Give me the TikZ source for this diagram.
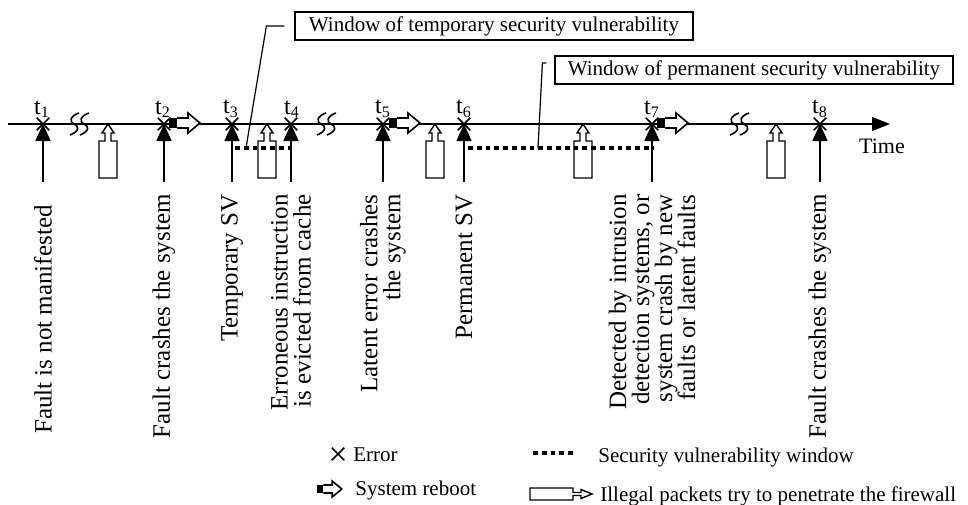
\documentclass[tikz,border=0pt]{standalone}
\usepackage{fontspec}
\setmainfont{Liberation Serif}
\usetikzlibrary{arrows.meta,shapes.misc,calc}
\tikzset{>=latex}
\tikzset{
  axis/.style={line width=0.7pt},
  err/.style={cross out, draw, line width=0.8pt, minimum size=5.5pt, inner sep=0pt},
  hit/.style={-{Triangle[length=8.5pt,width=7.5pt]}, line width=0.7pt},
  svwin/.style={line width=2.2pt, dash pattern=on 2.4pt off 2pt},
  tlabel/.style={anchor=south, inner sep=0pt, font=\fontsize{12}{12}\selectfont},
  cause/.style={rotate=90, anchor=east, align=right, inner sep=1pt,
    font=\fontsize{12.5}{11.5}\selectfont},
  callout/.style={draw, line width=0.6pt, font=\fontsize{10.5}{12}\selectfont,
    minimum width=199pt, minimum height=14pt, inner sep=2pt},
  key/.style={anchor=west, inner sep=0pt, font=\fontsize{10.5}{12}\selectfont},
  % reboot: black tail and hollow arrow
  reboot/.pic={
    \fill (0,-5) rectangle (8,5);
    \draw[fill=white, line width=0.8pt] (8,-5) -- (19,-5) -- (19,-10) -- (31,0)
      -- (19,10) -- (19,5) -- (8,5);
  },
  % packet pushing up against the line
  packet/.pic={
    \draw[line width=0.7pt] (0,0) -- (6,9) -- (3,9) -- (3,17) -- (9,17) -- (9,54)
      -- (-9,54) -- (-9,17) -- (-3,17) -- (-3,9) -- (-6,9) -- cycle;
  },
  % break in the time axis
  cut/.pic={
    \draw[line width=0.8pt] (0,-11) .. controls (-9,-8) and (-10,-2) .. (-5,0)
      .. controls (0,2) and (1,7) .. (-9,11);
    \draw[line width=0.8pt] (10,-11) .. controls (1,-8) and (0,-2) .. (5,0)
      .. controls (10,2) and (11,7) .. (1,11);
  },
}

\begin{document}
\begin{tikzpicture}[x=0.5pt, y=-0.5pt]
  \useasboundingbox (0,0) rectangle (968,504);

  % time axis
  \draw[axis, -{Triangle[length=9pt,width=7pt]}] (8,124) -- (890,124);
  \node[font=\fontsize{11}{12}\selectfont] (time) at (882,146) {Time};
  \pic at (79,124) {cut};
  \pic at (326,124) {cut};
  \pic at (739,124) {cut};

  % events on the axis
  \coordinate (t1) at (43,124);  \coordinate (b1) at (43,182);
  \coordinate (t2) at (164,124); \coordinate (b2) at (164,182);
  \coordinate (t3) at (232,124); \coordinate (b3) at (232,182);
  \coordinate (t4) at (291,124); \coordinate (b4) at (291,182);
  \coordinate (t5) at (383,124); \coordinate (b5) at (383,182);
  \coordinate (t6) at (464,124); \coordinate (b6) at (464,182);
  \coordinate (t7) at (652,124); \coordinate (b7) at (652,182);
  \coordinate (t8) at (820,124); \coordinate (b8) at (820,182);

  % packets hitting the firewall
  \pic at (108,124) {packet};
  \pic at (267,124) {packet};
  \pic at (435,124) {packet};
  \pic at (583,124) {packet};
  \pic at (776,124) {packet};

  % vulnerability windows
  \draw[svwin] (235,148) -- (292,148);
  \draw[svwin] (468,148) -- (653,148);

  % reboots
  \pic at (169,123) {reboot};
  \pic at (389,123) {reboot};
  \pic at (657,123) {reboot};

  \draw[hit] (b1) -- (t1);
  \draw[hit] (b2) -- (t2);
  \draw[hit] (b3) -- (t3);
  \draw[hit] (b4) -- (t4);
  \draw[hit] (b5) -- (t5);
  \draw[hit] (b6) -- (t6);
  \draw[hit] (b7) -- (t7);
  \draw[hit] (b8) -- (t8);

  \node[err] (e1) at (t1) {};
  \node[err] (e2) at (t2) {};
  \node[err] (e3) at (t3) {};
  \node[err] (e4) at (t4) {};
  \node[err] (e5) at (t5) {};
  \node[err] (e6) at (t6) {};
  \node[err] (e7) at (t7) {};
  \node[err] (e8) at (t8) {};

  \node[tlabel] (l1) at (42,118) {t\textsubscript{1}};
  \node[tlabel] (l2) at (163,118) {t\textsubscript{2}};
  \node[tlabel] (l3) at (231,118) {t\textsubscript{3}};
  \node[tlabel] (l4) at (292,118) {t\textsubscript{4}};
  \node[tlabel] (l5) at (383,118) {t\textsubscript{5}};
  \node[tlabel] (l6) at (464,118) {t\textsubscript{6}};
  \node[tlabel] (l7) at (652,118) {t\textsubscript{7}};
  \node[tlabel] (l8) at (820,118) {t\textsubscript{8}};

  % what happens at each event
  \node[cause] (c1) at (43,203) {Fault is not manifested};
  \node[cause] (c2) at (164,192) {Fault crashes the system};
  \node[cause] (c3) at (232,192) {Temporary SV};
  \node[cause] (c4) at (291,192) {Erroneous instruction\\is evicted from cache};
  \node[cause] (c5) at (383,192) {Latent error crashes\\the system};
  \node[cause] (c6) at (464,192) {Permanent SV};
  \node[cause] (c7) at (652,192) {Detected by intrusion\\detection systems, or\\system crash by new\\faults or latent faults};
  \node[cause] (c8) at (820,192) {Fault crashes the system};

  % callouts
  \node[callout] (tmpwin) at (494,26) {Window of temporary security vulnerability};
  \node[callout] (permwin) at (754,70) {Window of permanent security vulnerability};
  \coordinate (tmpend) at (246,148);
  \coordinate (permend) at (538,148);
  \draw[line width=0.6pt] ($(tmpwin.west)+(-10,0)$) -- ++(-18,0) -- (tmpend);
  \draw[line width=0.6pt] ($(permwin.west)+(-8,-7)$) -- ++(-4,0) -- (permend);

  % legend
  \node[err] (errkey) at (338,454) {};
  \node[key] (errtxt) at (353,455) {Error};
  \pic[scale=0.8] at (317,489) {reboot};
  \node[key] (boottxt) at (355,490) {System reboot};
  \draw[svwin] (533,453) -- (575,453);
  \node[key] (svtxt) at (598,457) {Security vulnerability window};
  \draw[line width=0.7pt] (592,494) -- (581,489.5) -- (581,492.5) -- (573,492.5)
    -- (573,488) -- (530,488) -- (530,500) -- (573,500) -- (573,495.5)
    -- (581,495.5) -- (581,498.5) -- cycle;
  \node[key] (pkttxt) at (600,496) {Illegal packets try to penetrate the firewall};
\end{tikzpicture}
\end{document}
